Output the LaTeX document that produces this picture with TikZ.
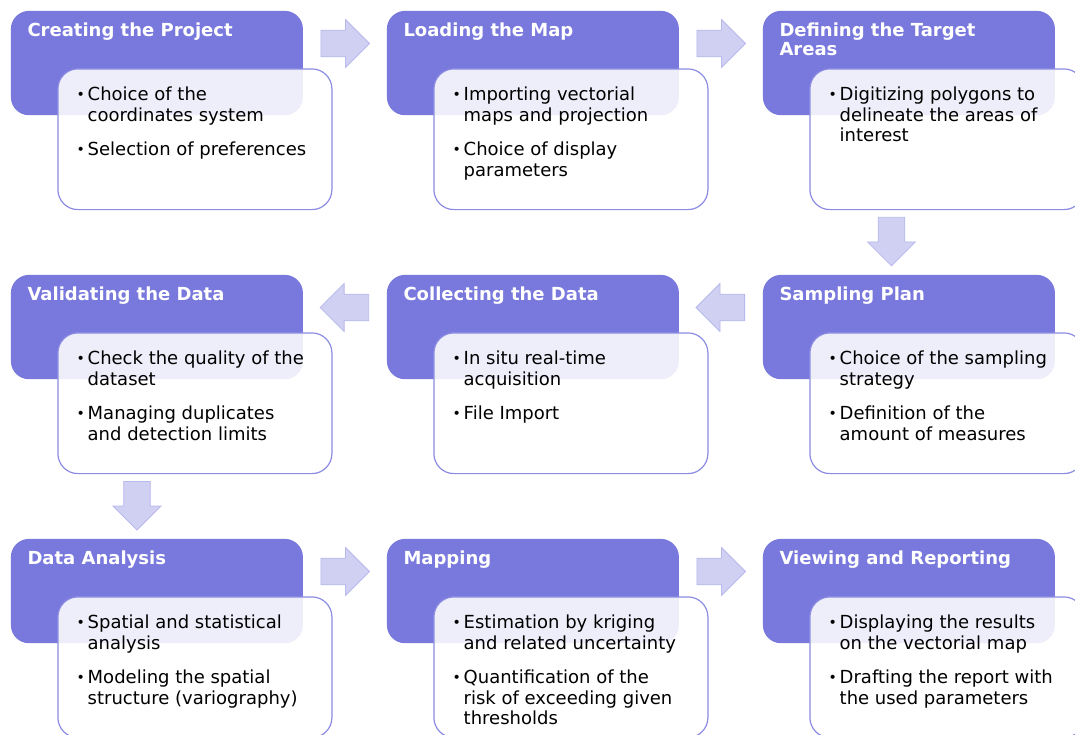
\documentclass[tikz,border=0pt]{standalone}
\usepackage{fontspec}
\setmainfont{DejaVu Sans}
\usetikzlibrary{shapes.arrows}

\definecolor{headfill}{RGB}{120,120,221}
\definecolor{bodyline}{RGB}{140,140,226}
\definecolor{arrowfill}{RGB}{208,208,243}
\definecolor{arrowline}{RGB}{184,184,236}

% one bullet point with hanging continuation lines
\newcommand{\bitem}[1]{\par\hangindent=11pt\hangafter=1\leavevmode\strut
  \makebox[11pt][l]{\fontsize{14}{14}\selectfont\raisebox{0.8pt}{\textbullet}}#1\par}
\newcommand{\headtext}[1]{\parbox[t][80.7pt][t]{258.8pt}{\strut #1}}
\newcommand{\bodytext}[1]{\parbox[t][106.3pt][t]{236.4pt}{\rightskip=0pt plus 1fil\setlength{\parskip}{13.5pt}#1}}

\begin{document}
\begin{tikzpicture}[x=1pt,y=-1pt,
  head/.style={fill=headfill, rounded corners=18pt, anchor=north west,
    inner xsep=16.6pt, inner ysep=11.8pt, text=white,
    font=\fontsize{18}{18}\selectfont\bfseries},
  body/.style={fill=white, fill opacity=0.88, text opacity=1, draw=bodyline,
    line width=1.2pt, rounded corners=20pt, anchor=north west,
    inner xsep=18.8pt, inner ysep=17.2pt, text=black,
    font=\fontsize{18}{20.7}\selectfont},
  blockarrow/.style={single arrow, fill=arrowfill, draw=arrowline, line width=0.8pt,
    minimum height=48.6pt, minimum width=48pt, single arrow head extend=9.2pt,
    inner xsep=0pt, inner ysep=11pt, anchor=tail}]
  \useasboundingbox (0,0) rectangle (1075,734);

  % first row
  \node[head] (head1) at (10.7,10.7) {\headtext{Creating the Project}};
  \node[body] (body1) at (57.3,68.3) {\bodytext{%
    \bitem{Choice of the\\coordinates system}
    \bitem{Selection of preferences}}};
  \node[head] (head2) at (386.7,10.7) {\headtext{Loading the Map}};
  \node[body] (body2) at (433.3,68.3) {\bodytext{%
    \bitem{Importing vectorial\\maps and projection}
    \bitem{Choice of display\\parameters}}};
  \node[head] (head3) at (762.7,10.7) {\headtext{Defining the Target\\Areas}};
  \node[body] (body3) at (809.3,68.3) {\bodytext{%
    \bitem{Digitizing polygons to\\delineate the areas of\\interest}}};

  % second row, right to left
  \node[head] (head4) at (762.7,274.7) {\headtext{Sampling Plan}};
  \node[body] (body4) at (809.3,332.3) {\bodytext{%
    \bitem{Choice of the sampling\\strategy}
    \bitem{Definition of the\\amount of measures}}};
  \node[head] (head5) at (386.7,274.7) {\headtext{Collecting the Data}};
  \node[body] (body5) at (433.3,332.3) {\bodytext{%
    \bitem{In situ real-time\\acquisition}
    \bitem{File Import}}};
  \node[head] (head6) at (10.7,274.7) {\headtext{Validating the Data}};
  \node[body] (body6) at (57.3,332.3) {\bodytext{%
    \bitem{Check the quality of the\\dataset}
    \bitem{Managing duplicates\\and detection limits}}};

  % third row
  \node[head] (head7) at (10.7,538.7) {\headtext{Data Analysis}};
  \node[body] (body7) at (57.3,596.3) {\bodytext{%
    \bitem{Spatial and statistical\\analysis}
    \bitem{Modeling the spatial\\structure (variography)}}};
  \node[head] (head8) at (386.7,538.7) {\headtext{Mapping}};
  \node[body] (body8) at (433.3,596.3) {\bodytext{%
    \bitem{Estimation by kriging\\and related uncertainty}
    \bitem{Quantification of the\\risk of exceeding given\\thresholds}}};
  \node[head] (head9) at (762.7,538.7) {\headtext{Viewing and Reporting}};
  \node[body] (body9) at (809.3,596.3) {\bodytext{%
    \bitem{Displaying the results\\on the vectorial map}
    \bitem{Drafting the report with\\the used parameters}}};

  % block arrows between the steps, placed by their tails
  \node[blockarrow] (a12) at (320.5,43.5) {};
  \node[blockarrow] (a23) at (696.5,43.5) {};
  \node[blockarrow, rotate=-90] (a34) at (891.5,216.9) {};
  \node[blockarrow, rotate=180] (a45) at (745,307.5) {};
  \node[blockarrow, rotate=180] (a56) at (369.1,307.5) {};
  \node[blockarrow, rotate=-90] (a67) at (137,481) {};
  \node[blockarrow] (a78) at (320.5,571.5) {};
  \node[blockarrow] (a89) at (696.5,571.5) {};
\end{tikzpicture}
\end{document}
